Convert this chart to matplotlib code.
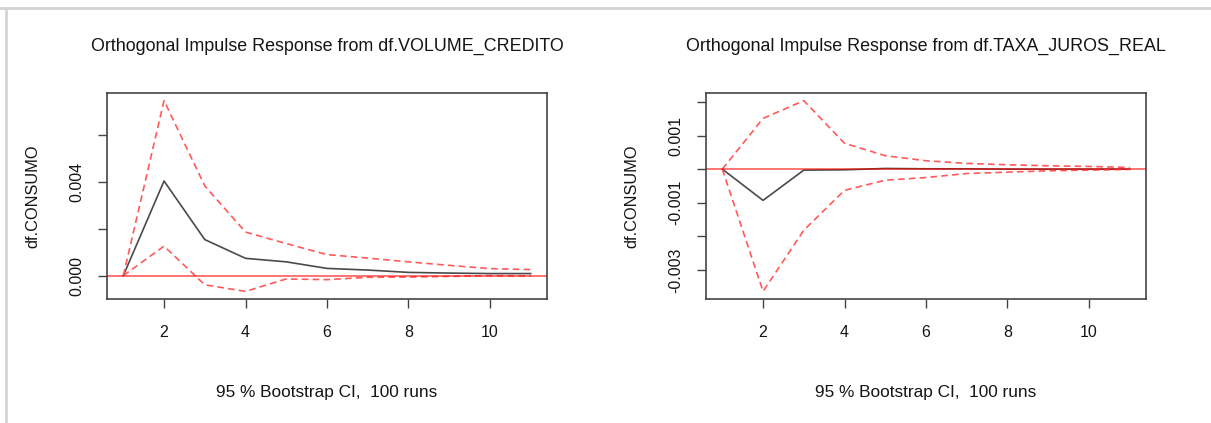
import matplotlib.pyplot as plt
from matplotlib.lines import Line2D

plt.rcParams['font.family'] = ['Liberation Sans', 'DejaVu Sans']

# horizon steps
steps = [1, 2, 3, 4, 5, 6, 7, 8, 9, 10, 11]

# response of df.CONSUMO to df.VOLUME_CREDITO
credito_irf = [0.0, 0.00404, 0.00154, 0.00074, 0.00059, 0.00031, 0.00024, 0.00014, 0.00011, 0.00009, 0.00009]
credito_upper = [0.0, 0.00747, 0.00383, 0.00186, 0.00137, 0.00090, 0.00075, 0.00059, 0.00044, 0.00030, 0.00026]
credito_lower = [0.0, 0.00126, -0.00039, -0.00067, -0.00014, -0.00017, -0.00007, -0.00006, -0.00003, 0.0, -0.00001]

# response of df.CONSUMO to df.TAXA_JUROS_REAL
juros_irf = [0.0, -0.00093, -0.00003, -0.00002, 0.00002, 0.00001, 0.00001, 0.0, 0.0, 0.0, 0.0]
juros_upper = [0.0, 0.00151, 0.00204, 0.00077, 0.00040, 0.00025, 0.00017, 0.00013, 0.00010, 0.00008, 0.00005]
juros_lower = [0.0, -0.00364, -0.00182, -0.00063, -0.00033, -0.00025, -0.00013, -0.00009, -0.00005, -0.00003, -0.00001]

x_ticks = [2, 4, 6, 8, 10]
credito_yticks = [0.0, 0.002, 0.004, 0.006]
credito_ylabels = ['0.000', '', '0.004', '']
juros_yticks = [-0.003, -0.002, -0.001, 0.0, 0.001, 0.002]
juros_ylabels = ['-0.003', '', '-0.001', '', '0.001', '']

W, H = 1211, 423
fig = plt.figure(figsize=(W / 100, H / 100), dpi=100)

panels = [
    ('Orthogonal Impulse Response from df.VOLUME_CREDITO', credito_irf, credito_upper, credito_lower,
     credito_yticks, credito_ylabels, 107),
    ('Orthogonal Impulse Response from df.TAXA_JUROS_REAL', juros_irf, juros_upper, juros_lower,
     juros_yticks, juros_ylabels, 706),
]

txt = '#151515'
for title, irf, upper, lower, yt, yl, left in panels:
    ax = fig.add_axes([left / W, 1 - 299 / H, 440 / W, 206 / H])
    ax.plot(steps, irf, color='#4a4a4a', lw=1.2)
    ax.plot(steps, upper, color='#ff5a5a', lw=1.2, ls=(0, (4, 2.5)))
    ax.plot(steps, lower, color='#ff5a5a', lw=1.2, ls=(0, (4, 2.5)))
    ax.axhline(0, color='red', lw=1.4, alpha=0.55)

    lo = min(lower + irf)
    hi = max(upper + irf)
    pad = 0.04 * (hi - lo)
    ax.set_ylim(lo - pad, hi + pad)
    ax.set_xlim(0.6, 11.4)

    ax.set_xticks(x_ticks)
    ax.set_yticks(yt)
    ax.set_yticklabels(yl, rotation=90, va='center')
    ax.tick_params(length=6.5, width=1, color='#444444', labelsize=11.5, labelcolor=txt)
    ax.tick_params(axis='x', pad=12)
    ax.tick_params(axis='y', pad=10)
    for s in ax.spines.values():
        s.set_color('#444444')
        s.set_linewidth(1.2)

    cx = (left + 220) / W
    fig.text(cx, 1 - 46 / H, title, fontsize=12.9, color=txt, ha='center', va='center')
    fig.text(cx, 1 - 392 / H, '95 % Bootstrap CI,  100 runs', fontsize=12.4, color=txt,
             ha='center', va='center')
    fig.text((left - 74) / W, 1 - 196 / H, 'df.CONSUMO', fontsize=11.8, color=txt,
             ha='center', va='center', rotation=90)

# light frame of the screenshot
fig.add_artist(Line2D([0, 1], [1 - 8 / H, 1 - 8 / H], color='#d4d4d4', lw=2))
fig.add_artist(Line2D([6 / W, 6 / W], [0, 1 - 8 / H], color='#d4d4d4', lw=2))

fig.savefig('out.png', dpi=100)
